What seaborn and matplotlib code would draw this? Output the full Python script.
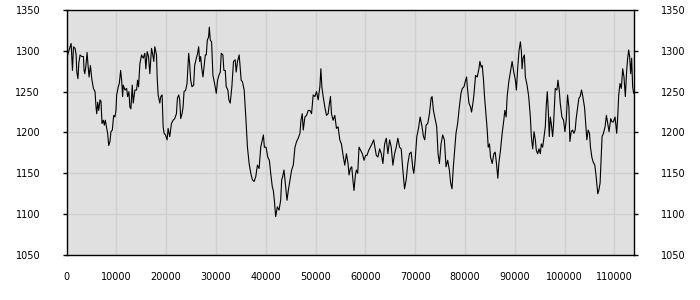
import matplotlib
matplotlib.use("Agg")
import matplotlib.pyplot as plt
import seaborn as sns
import pandas as pd

# sample positions (8 per line, aligned with values)
xs = [
    0, 470, 930, 1200, 1400, 1730, 1930, 2070,
    2300, 2470, 2730, 3070, 3400, 3530, 3670, 3870,
    4130, 4330, 4530, 4800, 5070, 5400, 5730, 5930,
    6070, 6270, 6470, 6730, 6930, 7130, 7400, 7600,
    7800, 8070, 8270, 8470, 8730, 8930, 9200, 9470,
    9730, 9930, 10070, 10400, 10600, 10870, 11070, 11270,
    11400, 11730, 12070, 12270, 12530, 12730, 12930, 13200,
    13400, 13730, 14070, 14270, 14470, 14730, 15070, 15400,
    15730, 15930, 16200, 16470, 16730, 17070, 17270, 17530,
    17730, 18070, 18200, 18400, 18730, 18930, 19200, 19400,
    19600, 19870, 20200, 20400, 20730, 21070, 21400, 21730,
    22070, 22270, 22530, 22730, 22930, 23200, 23400, 23600,
    23930, 24200, 24530, 24730, 24930, 25200, 25530, 25730,
    26070, 26330, 26530, 26730, 26930, 27130, 27400, 27600,
    27870, 28070, 28270, 28530, 28670, 28870, 29130, 29400,
    29730, 30070, 30330, 30600, 30870, 31070, 31400, 31600,
    31870, 32070, 32400, 32600, 32870, 33200, 33530, 33870,
    34070, 34330, 34670, 34870, 35070, 35330, 35670, 36000,
    36330, 36670, 37000, 37330, 37670, 38000, 38330, 38670,
    39000, 39330, 39530, 39730, 40070, 40400, 40730, 41000,
    41330, 41530, 41730, 42000, 42330, 42670, 43000, 43200,
    43400, 43670, 44000, 44270, 44530, 44870, 45200, 45530,
    45870, 46200, 46530, 46870, 47070, 47330, 47530, 47870,
    48200, 48530, 48870, 49200, 49530, 49870, 50200, 50530,
    50870, 51070, 51270, 51530, 51870, 52200, 52530, 52730,
    53000, 53200, 53530, 53870, 54200, 54530, 54870, 55200,
    55530, 55870, 56200, 56530, 56730, 57000, 57270, 57530,
    57730, 58000, 58200, 58470, 58730, 59070, 59400, 59730,
    60070, 60330, 60670, 61000, 61330, 61670, 61930, 62200,
    62530, 62870, 63200, 63530, 63870, 64200, 64530, 64870,
    65200, 65530, 65870, 66200, 66530, 66870, 67200, 67530,
    67870, 68200, 68530, 68870, 69200, 69530, 69730, 70000,
    70330, 70670, 71000, 71330, 71670, 71930, 72200, 72530,
    72870, 73200, 73400, 73670, 74070, 74330, 74600, 74870,
    75200, 75530, 75870, 76200, 76530, 76870, 77130, 77400,
    77670, 77930, 78200, 78530, 78870, 79200, 79470, 79800,
    80130, 80330, 80470, 80800, 81130, 81330, 81600, 81800,
    82130, 82470, 82800, 83000, 83270, 83470, 83730, 83930,
    84200, 84470, 84670, 84930, 85130, 85470, 85800, 86070,
    86330, 86600, 86800, 87130, 87470, 87800, 88000, 88270,
    88470, 88800, 89130, 89470, 89800, 90130, 90330, 90600,
    90870, 91130, 91330, 91470, 91670, 91930, 92130, 92470,
    92800, 93130, 93330, 93600, 93870, 94130, 94330, 94600,
    94870, 95130, 95330, 95600, 95800, 96130, 96330, 96530,
    96730, 96930, 97130, 97330, 97600, 97800, 98130, 98470,
    98670, 98930, 99130, 99470, 99800, 100070, 100330, 100600,
    100870, 101070, 101330, 101600, 101870, 102130, 102330, 102600,
    102870, 103130, 103400, 103670, 104000, 104200, 104470, 104730,
    105000, 105200, 105470, 105730, 106070, 106270, 106470, 106670,
    106870, 107130, 107330, 107530, 107800, 108130, 108400, 108670,
    108930, 109270, 109530, 109800, 110130, 110470, 110670, 110870,
    111130, 111400, 111670, 111930, 112200, 112470, 112670, 112870,
    113070, 113270, 113470, 113670, 113870,
]
values = [
    1290, 1300, 1309, 1276, 1305, 1303, 1295, 1274,
    1266, 1285, 1295, 1293, 1293, 1276, 1272, 1280,
    1298, 1282, 1268, 1282, 1266, 1254, 1250, 1231,
    1223, 1237, 1227, 1240, 1238, 1211, 1215, 1209,
    1215, 1205, 1199, 1184, 1189, 1201, 1203, 1221,
    1219, 1227, 1246, 1256, 1260, 1276, 1264, 1244,
    1258, 1252, 1254, 1244, 1250, 1231, 1229, 1258,
    1236, 1252, 1252, 1264, 1256, 1284, 1295, 1291,
    1297, 1278, 1299, 1293, 1272, 1303, 1297, 1287,
    1305, 1295, 1268, 1246, 1236, 1244, 1246, 1207,
    1199, 1197, 1191, 1205, 1195, 1211, 1215, 1217,
    1223, 1242, 1246, 1240, 1217, 1223, 1231, 1250,
    1252, 1260, 1297, 1284, 1264, 1256, 1258, 1282,
    1291, 1297, 1305, 1287, 1293, 1280, 1268, 1280,
    1295, 1295, 1313, 1317, 1329, 1313, 1311, 1270,
    1260, 1248, 1264, 1270, 1274, 1297, 1295, 1276,
    1276, 1256, 1252, 1240, 1236, 1256, 1287, 1289,
    1274, 1287, 1295, 1280, 1264, 1262, 1252, 1219,
    1182, 1162, 1150, 1142, 1140, 1146, 1160, 1156,
    1182, 1191, 1197, 1182, 1182, 1170, 1166, 1150,
    1133, 1129, 1117, 1097, 1109, 1105, 1117, 1142,
    1146, 1154, 1133, 1117, 1129, 1142, 1154, 1160,
    1182, 1189, 1193, 1199, 1215, 1223, 1203, 1219,
    1221, 1227, 1227, 1223, 1246, 1244, 1250, 1240,
    1256, 1278, 1256, 1244, 1231, 1221, 1223, 1233,
    1244, 1223, 1215, 1221, 1205, 1207, 1191, 1186,
    1172, 1160, 1174, 1162, 1148, 1156, 1158, 1140,
    1129, 1148, 1154, 1150, 1182, 1178, 1174, 1166,
    1172, 1172, 1178, 1182, 1186, 1191, 1182, 1172,
    1170, 1180, 1174, 1162, 1186, 1193, 1174, 1191,
    1182, 1160, 1174, 1182, 1193, 1182, 1180, 1154,
    1131, 1142, 1162, 1174, 1176, 1156, 1150, 1166,
    1195, 1205, 1219, 1209, 1195, 1191, 1209, 1211,
    1223, 1242, 1244, 1227, 1215, 1207, 1174, 1162,
    1186, 1197, 1191, 1158, 1166, 1154, 1138, 1131,
    1158, 1178, 1199, 1211, 1231, 1248, 1254, 1256,
    1264, 1268, 1256, 1236, 1231, 1225, 1236, 1246,
    1270, 1268, 1278, 1287, 1280, 1282, 1264, 1244,
    1223, 1203, 1182, 1186, 1170, 1162, 1174, 1176,
    1162, 1144, 1162, 1178, 1199, 1215, 1227, 1219,
    1244, 1262, 1274, 1287, 1274, 1264, 1252, 1280,
    1301, 1311, 1299, 1278, 1291, 1295, 1268, 1258,
    1244, 1219, 1195, 1180, 1201, 1191, 1178, 1174,
    1180, 1174, 1186, 1182, 1191, 1207, 1233, 1250,
    1227, 1195, 1219, 1211, 1195, 1211, 1254, 1252,
    1264, 1252, 1236, 1219, 1215, 1201, 1215, 1246,
    1231, 1189, 1201, 1203, 1199, 1203, 1217, 1229,
    1242, 1244, 1252, 1244, 1231, 1215, 1191, 1203,
    1199, 1182, 1170, 1164, 1160, 1150, 1138, 1125,
    1129, 1138, 1166, 1195, 1199, 1207, 1221, 1211,
    1201, 1217, 1213, 1213, 1219, 1199, 1219, 1246,
    1260, 1254, 1278, 1268, 1244, 1276, 1291, 1301,
    1293, 1272, 1291, 1256, 1248,
]

x_ticks = [0, 10000, 20000, 30000, 40000, 50000, 60000, 70000, 80000,
           90000, 100000, 110000]
y_ticks = [1050, 1100, 1150, 1200, 1250, 1300, 1350]

n = min(len(xs), len(values))
df = pd.DataFrame({"x": xs[:n], "y": values[:n]})

sns.set_style("whitegrid", {
    "axes.facecolor": "#e0e0e0",
    "grid.color": "#d0d0d0",
    "axes.edgecolor": "black",
})
plt.rcParams["font.family"] = ["DejaVu Sans"]

fig = plt.figure(figsize=(7, 3), dpi=100)
ax = fig.add_axes([66.5 / 700, 45 / 300, (634.3 - 66.5) / 700, 245 / 300])
sns.lineplot(data=df, x="x", y="y", ax=ax, color="black", linewidth=0.8,
             estimator=None, sort=False)

ax.set_xlim(0, 114000)
ax.set_ylim(1050, 1350)
ax.set_xticks(x_ticks)
ax.set_xticklabels([str(t) for t in x_ticks])
ax.set_yticks(y_ticks)
ax.set_yticklabels([str(t) for t in y_ticks])
ax.set_xlabel("")
ax.set_ylabel("")
ax.grid(True, color="#d0d0d0", linewidth=1)
for s in ax.spines.values():
    s.set_color("black")
    s.set_linewidth(1)
ax.tick_params(axis="y", which="both", left=True, right=True,
               labelleft=True, labelright=True, length=3, width=1,
               pad=16, labelsize=7, colors="black", direction="out")
ax.tick_params(axis="x", length=3, width=1, pad=9, labelsize=7,
               colors="black", direction="out")

fig.savefig("out.png", dpi=100, facecolor="white")
